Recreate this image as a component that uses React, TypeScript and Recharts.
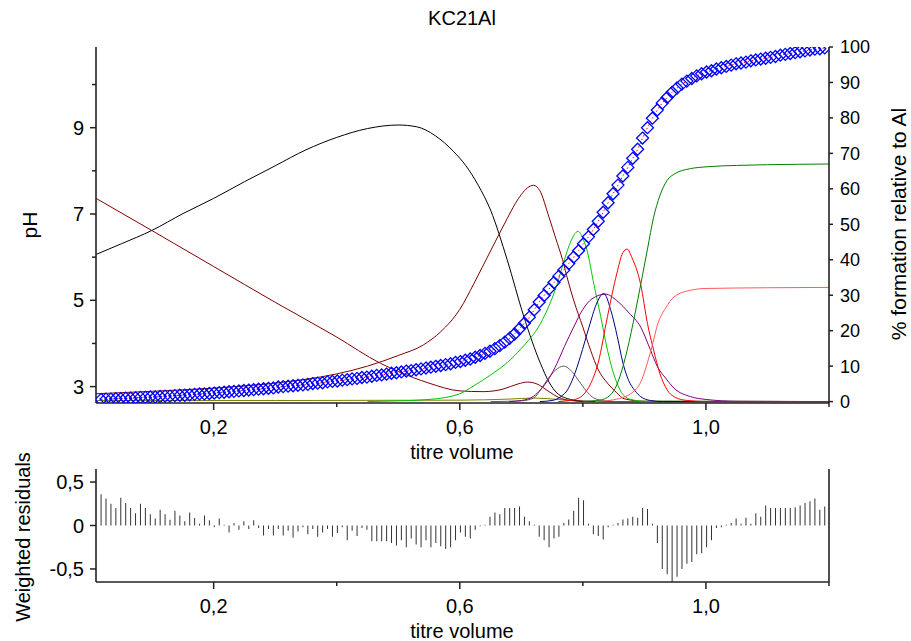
import React from 'react';
import { ComposedChart, Line, Scatter, XAxis, YAxis, Bar } from 'recharts';

const FONT = '"Liberation Sans", Arial, Helvetica, sans-serif';
const AXIS = '#222';

// titrant volumes (shared by observed pH and residuals)
const volumes = [
  0.017, 0.025, 0.033, 0.041, 0.049, 0.057, 0.065, 0.073, 0.081, 0.089,
  0.097, 0.105, 0.113, 0.121, 0.129, 0.137, 0.145, 0.153, 0.161, 0.169,
  0.177, 0.185, 0.193, 0.201, 0.209, 0.217, 0.225, 0.233, 0.241, 0.249,
  0.257, 0.265, 0.273, 0.281, 0.289, 0.297, 0.305, 0.313, 0.321, 0.329,
  0.337, 0.345, 0.353, 0.361, 0.369, 0.377, 0.385, 0.393, 0.401, 0.409,
  0.417, 0.425, 0.433, 0.441, 0.449, 0.457, 0.465, 0.473, 0.481, 0.489,
  0.497, 0.505, 0.513, 0.521, 0.529, 0.537, 0.545, 0.553, 0.561, 0.569,
  0.577, 0.585, 0.593, 0.601, 0.609, 0.617, 0.625, 0.633, 0.641, 0.649,
  0.657, 0.665, 0.673, 0.681, 0.689, 0.697, 0.705, 0.713, 0.721, 0.729,
  0.737, 0.745, 0.753, 0.761, 0.769, 0.777, 0.785, 0.793, 0.801, 0.809,
  0.817, 0.825, 0.833, 0.841, 0.849, 0.857, 0.865, 0.873, 0.881, 0.889,
  0.897, 0.905, 0.913, 0.921, 0.929, 0.937, 0.945, 0.953, 0.961, 0.969,
  0.977, 0.985, 0.993, 1.001, 1.009, 1.017, 1.025, 1.033, 1.041, 1.049,
  1.057, 1.065, 1.073, 1.081, 1.089, 1.097, 1.105, 1.113, 1.121, 1.129,
  1.137, 1.145, 1.153, 1.161, 1.169, 1.177, 1.185, 1.193,
];

const pHObserved = [
  2.70, 2.71, 2.71, 2.72, 2.72, 2.73, 2.73, 2.74, 2.75, 2.75,
  2.76, 2.76, 2.77, 2.78, 2.78, 2.79, 2.80, 2.80, 2.81, 2.82,
  2.83, 2.83, 2.84, 2.85, 2.86, 2.87, 2.88, 2.89, 2.90, 2.91,
  2.92, 2.93, 2.94, 2.95, 2.96, 2.97, 2.99, 3.00, 3.01, 3.02,
  3.03, 3.04, 3.05, 3.07, 3.08, 3.09, 3.11, 3.12, 3.13, 3.15,
  3.16, 3.18, 3.19, 3.21, 3.22, 3.24, 3.26, 3.27, 3.29, 3.31,
  3.32, 3.34, 3.36, 3.37, 3.39, 3.41, 3.43, 3.45, 3.47, 3.49,
  3.51, 3.53, 3.56, 3.58, 3.61, 3.64, 3.68, 3.72, 3.77, 3.82,
  3.88, 3.95, 4.03, 4.12, 4.22, 4.34, 4.47, 4.61, 4.78, 4.96,
  5.11, 5.26, 5.41, 5.56, 5.70, 5.85, 6.00, 6.15, 6.31, 6.47,
  6.64, 6.83, 7.04, 7.26, 7.47, 7.67, 7.88, 8.08, 8.29, 8.50,
  8.76, 9.00, 9.22, 9.41, 9.57, 9.70, 9.82, 9.92, 10.01, 10.08,
  10.14, 10.20, 10.25, 10.29, 10.32, 10.36, 10.39, 10.42, 10.45, 10.48,
  10.50, 10.52, 10.55, 10.57, 10.59, 10.61, 10.63, 10.65, 10.68, 10.70,
  10.72, 10.74, 10.76, 10.78, 10.80, 10.82, 10.83, 10.85,
];

const residuals = [
  0.36, 0.31, 0.25, 0.20, 0.32, 0.26, 0.20, 0.14, 0.25, 0.20,
  0.13, 0.08, 0.18, 0.13, 0.065, 0.17, 0.115, 0.05, 0.15, 0.085,
  0.02, 0.115, 0.06, -0.02, 0.08, 0.01, -0.08, 0.03, -0.05, 0.05,
  -0.04, 0.06, -0.03, -0.115, -0.04, -0.115, -0.04, -0.115, -0.06, -0.14,
  -0.07, -0.02, -0.10, -0.04, -0.13, -0.08, -0.04, -0.13, -0.085,
  -0.02, -0.17, -0.06, -0.12, -0.03, -0.05, -0.18, -0.18, -0.18, -0.18,
  -0.20, -0.23, -0.17, -0.25, -0.15, -0.22, -0.25, -0.17, -0.25, -0.20,
  -0.24, -0.27, -0.25, -0.17, -0.08, -0.13, -0.15, -0.05, -0.01, 0.01,
  0.10, 0.15, 0.13, 0.20, 0.20, 0.20, 0.22, 0.10, 0.05, 0.01,
  -0.13, -0.17, -0.25, -0.15, -0.13, 0.03, 0.07, 0.17, 0.32,
  0.29, 0.02, -0.10, -0.12, -0.16, -0.02, 0.01, 0.03, 0.07, 0.08,
  0.10, 0.09, 0.20, 0.19, 0.02, -0.20, -0.50, -0.56, -0.65, -0.59,
  -0.50, -0.44, -0.42, -0.33, -0.32, -0.25, -0.17, -0.03, -0.02, 0.01,
  0.03, 0.08, 0.02, 0.09, 0.02, 0.14, 0.10, 0.23, 0.20, 0.20,
  0.20, 0.20, 0.20, 0.21, 0.23, 0.26, 0.28, 0.31, 0.18, 0.22,
];

// species distribution curves: [titre volume, % formation relative to Al]
const speciesBlack: [number, number][] = [
  [0.009, 41.5], [0.05, 44.5], [0.1, 48.3], [0.15, 53], [0.2, 57.3], [0.25, 62], [0.3, 66.5],
  [0.35, 71], [0.4, 74.5], [0.45, 77], [0.5, 78], [0.53, 77.5], [0.56, 75], [0.59, 70.5],
  [0.61, 66.5], [0.63, 61], [0.65, 54], [0.677, 40], [0.704, 24], [0.731, 10.8], [0.745, 5.5],
  [0.758, 2.4], [0.78, 0.6], [0.8, 0.1], [0.85, 0], [1.2, 0],
];
const speciesMaroonA: [number, number][] = [
  [0.009, 57.3], [0.1, 48.2], [0.2, 38.1], [0.3, 28], [0.4, 18.2], [0.471, 10.8], [0.5, 8.5],
  [0.55, 5.2], [0.601, 3], [0.638, 2.8], [0.67, 3.5], [0.695, 5], [0.71, 5.5], [0.725, 5],
  [0.745, 2.8], [0.76, 1.2], [0.78, 0.3], [0.82, 0], [1.2, 0],
];
const speciesMaroonB: [number, number][] = [
  [0.009, 2.2], [0.1, 2.9], [0.2, 3.8], [0.3, 5.2], [0.35, 6.3], [0.4, 7.8], [0.45, 10], [0.5, 13],
  [0.541, 16], [0.569, 19.7], [0.6, 26], [0.623, 33.3], [0.65, 42.5], [0.677, 51.6], [0.69, 55.8],
  [0.7, 58.4], [0.71, 60.3], [0.72, 61], [0.73, 59.5], [0.745, 52], [0.756, 46], [0.767, 40],
  [0.776, 34], [0.785, 28.6], [0.8, 21], [0.8125, 14.5], [0.825, 9], [0.84, 5.2], [0.855, 2.5],
  [0.867, 0.8], [0.9, 0.1], [1.2, 0],
];
const speciesLime: [number, number][] = [
  [0.45, 0], [0.5, 0.2], [0.55, 0.6], [0.6, 2.2], [0.623, 4.5], [0.65, 7.5], [0.677, 11], [0.7, 15],
  [0.731, 22], [0.745, 27], [0.758, 33], [0.77, 40], [0.78, 45], [0.792, 48], [0.8, 46],
  [0.807, 42.5], [0.818, 33], [0.829, 24], [0.84, 14.5], [0.848, 9], [0.856, 5], [0.865, 2],
  [0.88, 0.5], [0.9, 0.1], [1.2, 0],
];
const speciesDarkGreen: [number, number][] = [
  [0.8, 0], [0.83, 0.5], [0.85, 3], [0.86, 7], [0.872, 14.5], [0.885, 25], [0.894, 33], [0.905, 43],
  [0.915, 52], [0.925, 58], [0.937, 62.4], [0.95, 64.3], [0.975, 65.7], [1.0, 66.2], [1.05, 66.6],
  [1.1, 66.8], [1.2, 67],
];
const speciesRed: [number, number][] = [
  [0.76, 0], [0.785, 0.5], [0.8, 1.8], [0.8125, 5], [0.825, 11], [0.84, 24], [0.855, 36], [0.865, 42],
  [0.872, 43], [0.88, 40.5], [0.894, 33], [0.905, 22], [0.915, 14.5], [0.925, 8], [0.937, 3.3],
  [0.95, 1.2], [0.97, 0.3], [1.0, 0], [1.2, 0],
];
const speciesLightRed: [number, number][] = [
  [0.82, 0], [0.85, 0.5], [0.87, 1.5], [0.88, 2.5], [0.894, 5.5], [0.905, 11], [0.913, 16],
  [0.921, 21.5], [0.935, 26.5], [0.948, 29.5], [0.975, 31.4], [1.0, 31.9], [1.1, 32.1], [1.2, 32.2],
];
const speciesPurple: [number, number][] = [
  [0.68, 0], [0.7, 0.3], [0.72, 1.5], [0.731, 3.3], [0.745, 6.5], [0.758, 10.8], [0.77, 15.5],
  [0.785, 21], [0.8, 26], [0.815, 29], [0.837, 30.3], [0.855, 28.5], [0.875, 25], [0.894, 21],
  [0.91, 14.5], [0.921, 9.9], [0.935, 6.5], [0.948, 3.8], [0.975, 1.4], [1.0, 0.6], [1.05, 0.1],
  [1.2, 0],
];
const speciesNavy: [number, number][] = [
  [0.73, 0], [0.75, 0.3], [0.765, 1.5], [0.775, 3.3], [0.785, 7], [0.796, 12.7], [0.81, 21],
  [0.822, 27.5], [0.834, 30.5], [0.845, 26], [0.856, 18.3], [0.865, 11], [0.872, 7], [0.885, 3],
  [0.894, 1.4], [0.91, 0.3], [0.93, 0], [1.2, 0],
];
const speciesGray: [number, number][] = [
  [0.65, 0], [0.7, 0.2], [0.72, 1], [0.732, 3.5], [0.742, 6.1], [0.755, 8.8], [0.769, 10],
  [0.782, 8.5], [0.796, 5.2], [0.808, 2.5], [0.818, 1], [0.835, 0.2], [0.86, 0], [1.2, 0],
];
const speciesOlive: [number, number][] = [
  [0.009, 0.3], [0.3, 0.3], [0.6, 0.4], [0.68, 0.7], [0.72, 1], [0.76, 0.6], [0.8, 0.1], [0.85, 0], [1.2, 0],
];

const speciesSeries: { data: [number, number][]; color: string }[] = [
  { data: speciesOlive, color: '#808000' },
  { data: speciesBlack, color: '#000000' },
  { data: speciesMaroonA, color: '#800000' },
  { data: speciesMaroonB, color: '#800000' },
  { data: speciesGray, color: '#606060' },
  { data: speciesLime, color: '#00c800' },
  { data: speciesPurple, color: '#800080' },
  { data: speciesNavy, color: '#000080' },
  { data: speciesRed, color: '#ff0000' },
  { data: speciesDarkGreen, color: '#008000' },
  { data: speciesLightRed, color: '#ff5a5a' },
];

const xDomain: [number, number] = [0.0088, 1.2];
const xTicks = [0.2, 0.4, 0.6, 0.8, 1.0, 1.2];
const xTickLabels = ['0,2', '', '0,6', '', '1,0', ''];
const phDomain: [number, number] = [2.62, 10.87];
const phTicks = [3, 4, 5, 6, 7, 8, 9, 10];
const phTickLabels = ['3', '', '5', '', '7', '', '9', ''];
const pctDomain: [number, number] = [-0.4, 100];
const pctTicks = [0, 10, 20, 30, 40, 50, 60, 70, 80, 90, 100];
const resDomain: [number, number] = [-0.65, 0.65];
const resTicks = [-0.5, 0, 0.5];
const resTickLabels = ['-0,5', '0', '0,5'];

const titrationData = volumes.map((v, i) => ({ v, pH: pHObserved[i] }));
const residualData = volumes.map((v, i) => ({ v, r: residuals[i] }));

const XTick = (props: any) => {
  const { x, y, payload } = props;
  const i = xTicks.indexOf(payload.value);
  const label = xTickLabels[i] || '';
  return (
    <g>
      <line x1={x} y1={y} x2={x} y2={y + (label ? 7 : 4)} stroke={AXIS} strokeWidth={1.5} />
      {label ? (
        <text x={x} y={y + 31} textAnchor="middle" fontFamily={FONT} fontSize={20} fill="#000">
          {label}
        </text>
      ) : null}
    </g>
  );
};

const PhTick = (props: any) => {
  const { x, y, payload } = props;
  const i = phTicks.indexOf(payload.value);
  const label = phTickLabels[i] || '';
  return (
    <g>
      <line x1={x} y1={y} x2={x - (label ? 6 : 4)} y2={y} stroke={AXIS} strokeWidth={1.5} />
      {label ? (
        <text x={x - 12} y={y} dy="0.36em" textAnchor="end" fontFamily={FONT} fontSize={20} fill="#000">
          {label}
        </text>
      ) : null}
    </g>
  );
};

const PctTick = (props: any) => {
  const { x, y, payload } = props;
  return (
    <g>
      <line x1={x} y1={y} x2={x + 4} y2={y} stroke={AXIS} strokeWidth={1.5} />
      <text x={x + 11} y={y} dy="0.36em" textAnchor="start" fontFamily={FONT} fontSize={18} fill="#000">
        {String(payload.value)}
      </text>
    </g>
  );
};

const ResTick = (props: any) => {
  const { x, y, payload } = props;
  const i = resTicks.indexOf(payload.value);
  const label = resTickLabels[i] || '';
  return (
    <g>
      <line x1={x} y1={y} x2={x - 6} y2={y} stroke={AXIS} strokeWidth={1.5} />
      <text x={x - 12} y={y} dy="0.36em" textAnchor="end" fontFamily={FONT} fontSize={20} fill="#000">
        {label}
      </text>
    </g>
  );
};

const Diamond = (props: any) => {
  const { cx, cy } = props;
  if (cx == null || cy == null || isNaN(cx) || isNaN(cy)) return null;
  const r = 6;
  return (
    <path
      d={`M${cx},${cy - r}L${cx + r},${cy}L${cx},${cy + r}L${cx - r},${cy}Z`}
      fill="none"
      stroke="#0000ff"
      strokeWidth={1.3}
    />
  );
};

const axisLine = { stroke: AXIS, strokeWidth: 1.6 };

export default function App() {
  return (
    <div style={{ position: 'absolute', left: 0, top: 0, width: 911, height: 641, background: '#fff', overflow: 'hidden' }}>
      <div style={{ position: 'absolute', left: 0, top: 0 }}>
        <ComposedChart width={911} height={470} data={titrationData} margin={{ top: 47, right: 0, bottom: 0, left: 0 }}>
          <XAxis
            dataKey="v"
            type="number"
            domain={xDomain}
            allowDataOverflow
            ticks={xTicks}
            interval={0}
            tick={<XTick />}
            tickLine={false}
            tickSize={0}
            tickMargin={0}
            axisLine={axisLine}
            height={67}
          />
          <XAxis
            xAxisId="top"
            orientation="top"
            type="number"
            domain={xDomain}
            allowDataOverflow
            tick={false}
            tickLine={false}
            axisLine={axisLine}
            height={0}
          />
          <YAxis
            yAxisId="left"
            type="number"
            domain={phDomain}
            allowDataOverflow
            ticks={phTicks}
            interval={0}
            tick={<PhTick />}
            tickLine={false}
            tickSize={0}
            tickMargin={0}
            axisLine={axisLine}
            width={96}
          />
          <YAxis
            yAxisId="right"
            orientation="right"
            type="number"
            domain={pctDomain}
            allowDataOverflow
            ticks={pctTicks}
            interval={0}
            tick={<PctTick />}
            tickLine={false}
            tickSize={0}
            tickMargin={0}
            axisLine={axisLine}
            width={82}
          />
          {speciesSeries.map((s, k) => (
            <Line
              key={k}
              yAxisId="right"
              data={s.data.map(([v, pct]) => ({ v, pct }))}
              dataKey="pct"
              type="monotone"
              stroke={s.color}
              strokeWidth={1}
              dot={false}
              activeDot={false}
              isAnimationActive={false}
            />
          ))}
          <Scatter yAxisId="left" data={titrationData} dataKey="pH" shape={<Diamond />} isAnimationActive={false} />
          <Line
            yAxisId="left"
            data={titrationData}
            dataKey="pH"
            type="monotone"
            stroke="#ff0000"
            strokeWidth={1}
            strokeDasharray="1.5 2.5"
            dot={false}
            activeDot={false}
            isAnimationActive={false}
          />
        </ComposedChart>
      </div>
      <div style={{ position: 'absolute', left: 0, top: 455 }}>
        <ComposedChart width={911} height={186} data={residualData} margin={{ top: 14, right: 0, bottom: 0, left: 0 }}>
          <XAxis
            dataKey="v"
            type="number"
            domain={xDomain}
            allowDataOverflow
            ticks={xTicks}
            interval={0}
            tick={<XTick />}
            tickLine={false}
            tickSize={0}
            tickMargin={0}
            axisLine={axisLine}
            height={59}
          />
          <XAxis
            xAxisId="top"
            orientation="top"
            type="number"
            domain={xDomain}
            allowDataOverflow
            tick={false}
            tickLine={false}
            axisLine={axisLine}
            height={0}
          />
          <YAxis
            type="number"
            domain={resDomain}
            allowDataOverflow
            ticks={resTicks}
            interval={0}
            tick={<ResTick />}
            tickLine={false}
            tickSize={0}
            tickMargin={0}
            axisLine={axisLine}
            width={96}
          />
          <YAxis
            yAxisId="border"
            orientation="right"
            type="number"
            domain={[0, 1]}
            tick={false}
            tickLine={false}
            axisLine={axisLine}
            width={82}
          />
          <Bar dataKey="r" barSize={1} fill="#333" isAnimationActive={false} />
        </ComposedChart>
      </div>
      <svg width={911} height={641} style={{ position: 'absolute', left: 0, top: 0, pointerEvents: 'none' }}>
        <g fontFamily={FONT} fill="#000">
          <text x={462} y={25} textAnchor="middle" fontSize={20}>KC21Al</text>
          <text transform="translate(37,225) rotate(-90)" textAnchor="middle" fontSize={21}>pH</text>
          <text transform="translate(906,224) rotate(-90)" textAnchor="middle" fontSize={21}>% formation relative to Al</text>
          <text x={462} y={459} textAnchor="middle" fontSize={20}>titre volume</text>
          <text x={462} y={638} textAnchor="middle" fontSize={20}>titre volume</text>
          <text transform="translate(30,537) rotate(-90)" textAnchor="middle" fontSize={20}>Weighted residuals</text>
        </g>
      </svg>
    </div>
  );
}
